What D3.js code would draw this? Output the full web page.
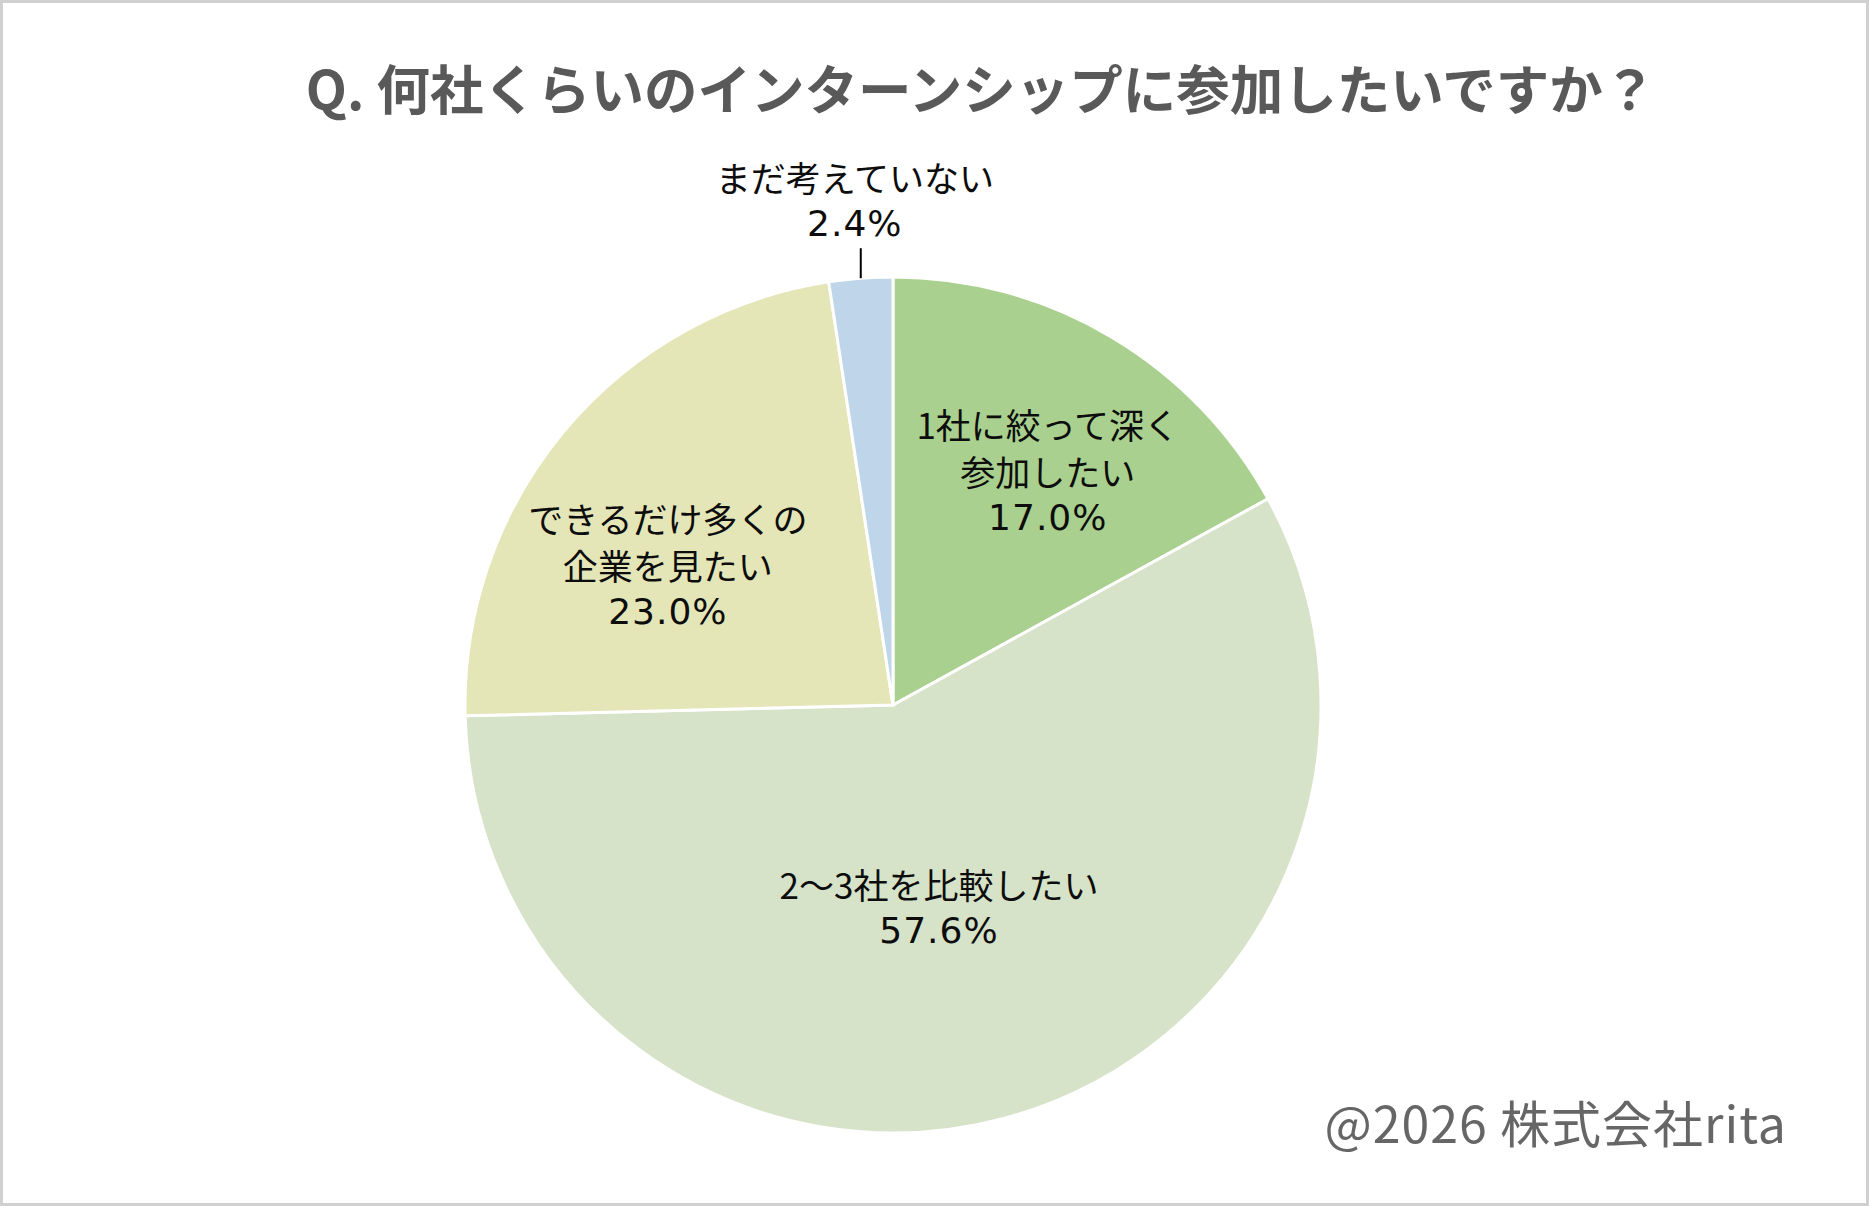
<!DOCTYPE html>
<html>
<head>
<meta charset="utf-8">
<script src="https://cdn.jsdelivr.net/npm/d3@7"></script>
<style>
  html, body { margin: 0; padding: 0; background: #fff; }
  text { font-family: "Noto Sans CJK JP", "Noto Sans", sans-serif; }
</style>
</head>
<body>
<svg id="chart" width="1869" height="1206"></svg>
<script>
// values
var categories = ['1社に絞って深く参加したい', '2～3社を比較したい', 'できるだけ多くの企業を見たい', 'まだ考えていない'];
var labelLines = [['1社に絞って深く', '参加したい'], ['2～3社を比較したい'], ['できるだけ多くの', '企業を見たい'], ['まだ考えていない']];
var shares = [17.0, 57.6, 23.0, 2.4];
var colors = ['#A9D08E', '#D6E3C9', '#E4E6B8', '#BED5EA'];

var titleText = 'Q. 何社くらいのインターンシップに参加したいですか？';
var creditText = '@2026 株式会社rita';

var width = 1869, height = 1206;
var cx = 893, cy = 705, radius = 428;
var lineH = 47;

var svg = d3.select('#chart');

// frame
svg.append('rect')
  .attr('x', 1.5).attr('y', 1.5)
  .attr('width', width - 3).attr('height', height - 3)
  .attr('fill', '#fff')
  .attr('stroke', '#d0d0d0')
  .attr('stroke-width', 3);

svg.append('text')
  .attr('x', 981).attr('y', 86)
  .attr('text-anchor', 'middle')
  .attr('dominant-baseline', 'central')
  .attr('font-size', 53.5)
  .attr('font-weight', 700)
  .attr('fill', '#595959')
  .text(titleText);

var data = categories.map(function(c, i) {
  return { name: c, value: shares[i], lines: labelLines[i], color: colors[i] };
});

var pie = d3.pie().sort(null).value(function(d) { return d.value; });
var arc = d3.arc().innerRadius(0).outerRadius(radius);
var arcs = pie(data);

var g = svg.append('g').attr('transform', 'translate(' + cx + ',' + cy + ')');

g.selectAll('path.slice')
  .data(arcs)
  .enter().append('path')
  .classed('slice', true)
  .attr('d', arc)
  .attr('fill', function(d) { return d.data.color; })
  .attr('stroke', '#fff')
  .attr('stroke-width', 3);

// label placement (Excel-style manual nudges): angle shift in degrees, radius factor
var placement = [
  { da: 2.8, k: 0.657 },
  { da: 2.3, k: 0.484 },
  { da: -8.0, k: 0.62 },
  { da: 0, k: null }   // outside label with leader line
];

function polar(angle, r) {
  return [Math.sin(angle) * r, -Math.cos(angle) * r];
}

arcs.forEach(function(d, i) {
  var p = placement[i];
  var mid = (d.startAngle + d.endAngle) / 2 + p.da * Math.PI / 180;
  var lines = d.data.lines.concat([d.data.value.toFixed(1) + '%']);
  var pos;

  if (p.k === null) {
    var edge = polar(mid, radius);
    g.append('line')
      .attr('x1', edge[0]).attr('y1', edge[1])
      .attr('x2', edge[0]).attr('y2', edge[1] - 30)
      .attr('stroke', '#000')
      .attr('stroke-width', 2);
    var top = edge[1] - 55 - (lines.length - 1) * lineH;
    pos = [edge[0] - 6, top + (lines.length - 1) * lineH / 2];
  } else {
    pos = polar(mid, radius * p.k);
  }

  var t = g.append('text')
    .attr('text-anchor', 'middle')
    .attr('font-size', 35)
    .attr('fill', '#0d0d0d');

  lines.forEach(function(s, j) {
    var isPct = j === lines.length - 1;
    t.append('tspan')
      .attr('x', pos[0])
      .attr('y', pos[1] + (j - (lines.length - 1) / 2) * lineH)
      .attr('dominant-baseline', 'central')
      .style('font-family', isPct ? '"DejaVu Sans", sans-serif' : null)
      .attr('font-size', isPct ? 36 : null)
      .attr('letter-spacing', isPct ? 1 : null)
      .text(s);
  });
});

svg.append('text')
  .attr('x', 1787).attr('y', 1121)
  .attr('text-anchor', 'end')
  .attr('dominant-baseline', 'central')
  .attr('font-size', 50)
  .attr('letter-spacing', 1)
  .attr('fill', '#666')
  .text(creditText);
</script>
</body>
</html>
